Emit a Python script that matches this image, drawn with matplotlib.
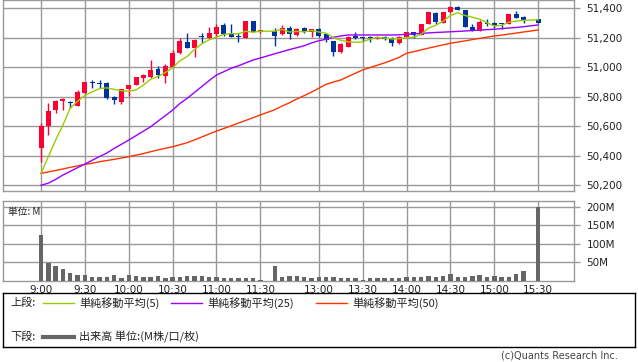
import numpy as np
import matplotlib.pyplot as plt

# 5-minute slots: 9:00-11:30, one empty break slot, 12:30-15:30
slots = [f"{(540 + 5 * k) // 60}:{(540 + 5 * k) % 60:02d}" for k in range(31)]
slots += [""]
slots += [f"{(750 + 5 * k) // 60}:{(750 + 5 * k) % 60:02d}" for k in range(37)]

tick_labels = ["9:00", "9:30", "10:00", "10:30", "11:00", "11:30",
               "13:00", "13:30", "14:00", "14:30", "15:00", "15:30"]

N = None
opens = [50451, 50604, 50709, 50770, 50765, 50740, 50824, 50902, 50895, 50894,
         50797, 50767, 50851, 50880, 50927, 50932, 50986, 50941, 51004, 51095,
         51170, 51133, 51212, 51201, 51226, 51287, 51230, 51207, 51201, 51314,
         51237, N, 51246, 51224, 51264, 51219, 51264, 51237, 51258, 51224,
         51178, 51102, 51140, 51212, 51199, 51203, 51192, 51207, 51192, 51163,
         51207, 51237, 51219, 51292, 51366, 51302, 51373, 51407, 51389, 51271,
         51248, 51302, 51298, 51296, 51292, 51361, 51343, N, 51327]
highs = [50620, 50755, 50775, 50790, 50772, 50846, 50900, 50914, 50912, 50900,
         50805, 50855, 50882, 50936, 50954, 51050, 51009, 51022, 51117, 51197,
         51232, 51190, 51230, 51275, 51294, 51302, 51294, 51230, 51316, 51316,
         51255, N, 51269, 51287, 51280, 51264, 51270, 51262, 51264, 51230,
         51180, 51163, 51214, 51237, 51207, 51212, 51212, 51210, 51207, 51209,
         51239, 51239, 51294, 51375, 51377, 51375, 51413, 51412, 51391, 51294,
         51321, 51327, 51309, 51302, 51363, 51384, 51345, N, 51329]
lows = [50360, 50541, 50688, 50710, 50725, 50738, 50822, 50858, 50862, 50788,
        50753, 50749, 50808, 50878, 50902, 50925, 50925, 50895, 51002, 51090,
        51133, 51072, 51167, 51199, 51207, 51212, 51207, 51174, 51199, 51241,
        51235, N, 51147, 51222, 51192, 51212, 51230, 51203, 51208, 51170,
        51079, 51095, 51138, 51195, 51180, 51174, 51190, 51185, 51147, 51161,
        51205, 51197, 51217, 51290, 51294, 51300, 51371, 51387, 51275, 51246,
        51246, 51282, 51264, 51258, 51290, 51334, 51298, N, 51300]
closes = [50604, 50704, 50771, 50783, 50760, 50832, 50898, 50896, 50889, 50790,
          50778, 50853, 50880, 50934, 50948, 50982, 50948, 51009, 51099, 51180,
          51133, 51185, 51204, 51230, 51271, 51226, 51207, 51203, 51314, 51241,
          51253, N, 51214, 51264, 51224, 51260, 51237, 51260, 51214, 51185,
          51102, 51156, 51207, 51197, 51196, 51200, 51207, 51192, 51163, 51207,
          51237, 51219, 51292, 51373, 51305, 51373, 51411, 51389, 51275, 51248,
          51305, 51294, 51280, 51292, 51361, 51336, 51321, N, 51302]

ma5 = [50281, 50394, 50507, 50609, 50724, 50770, 50809, 50834, 50855, 50861,
       50850, 50841, 50838, 50847, 50879, 50919, 50938, 50964, 50997, 51044,
       51074, 51121, 51160, 51186, 51205, 51223, 51228, 51227, 51244, 51238,
       51244, N, 51245, 51257, 51239, 51243, 51240, 51249, 51239, 51231,
       51200, 51183, 51173, 51169, 51172, 51191, 51201, 51198, 51192, 51194,
       51201, 51204, 51224, 51266, 51285, 51312, 51351, 51370, 51351, 51339,
       51326, 51302, 51280, 51284, 51306, 51313, 51318, N, 51322]
ma25 = [50200, 50215, 50240, 50270, 50295, 50320, 50344, 50370, 50395, 50419,
        50450, 50478, 50507, 50537, 50567, 50597, 50635, 50672, 50710, 50755,
        50790, 50830, 50870, 50910, 50948, 50970, 50993, 51010, 51030, 51049,
        51063, N, 51092, 51106, 51120, 51133, 51146, 51165, 51180, 51190,
        51203, 51212, 51219, 51219, 51219, 51219, 51219, 51219, 51219, 51220,
        51224, 51226, 51230, 51233, 51236, 51238, 51241, 51243, 51246, 51249,
        51252, 51255, 51258, 51262, 51266, 51270, 51275, N, 51287]
ma50 = [50281, 50291, 50301, 50311, 50322, 50332, 50342, 50350, 50360, 50368,
        50376, 50385, 50394, 50405, 50415, 50428, 50440, 50451, 50462, 50475,
        50489, 50508, 50528, 50548, 50568, 50585, 50603, 50622, 50640, 50658,
        50677, N, 50713, 50738, 50760, 50785, 50808, 50832, 50858, 50885,
        50900, 50914, 50937, 50960, 50982, 50998, 51014, 51030, 51048, 51068,
        51095, 51106, 51118, 51130, 51141, 51152, 51163, 51171, 51179, 51188,
        51196, 51204, 51212, 51218, 51225, 51232, 51239, N, 51253]

volume = [125, 48, 40, 32, 21, 17, 17, 12, 12, 12,
          15, 9, 15, 13, 10, 10, 13, 7, 10, 10,
          13, 13, 13, 10, 10, 7, 7, 7, 7, 7,
          3, 0, 40, 10, 13, 13, 10, 7, 10, 10,
          10, 7, 7, 7, 4, 7, 7, 7, 7, 7,
          10, 10, 12, 13, 12, 14, 20, 10, 10, 14,
          17, 10, 14, 12, 12, 20, 28, 1, 200]

UP = "#ff0033"
DOWN = "#003399"
GRID = "#999999"
TXT = "#222222"
JP = ["Noto Sans CJK JP", "DejaVu Sans"]

x = np.arange(len(slots))
o = np.array(opens, dtype=float)
h = np.array(highs, dtype=float)
l = np.array(lows, dtype=float)
c = np.array(closes, dtype=float)
has = ~np.isnan(c)

W, H = 638, 362
fig = plt.figure(figsize=(W / 100, H / 100), dpi=100)
ax = fig.add_axes([3 / W, 1 - 190.5 / H, 571 / W, 190.5 / H])
axv = fig.add_axes([3 / W, 1 - 281 / H, 571 / W, 80 / H])

tick_pos = [slots.index(t) for t in tick_labels]

for a in (ax, axv):
    a.set_xlim(-5.2, 72.9)
    for s in a.spines.values():
        s.set_color(GRID)
        s.set_linewidth(1)
    a.yaxis.tick_right()
    a.set_xticks(tick_pos)
    a.grid(True, color=GRID, linewidth=1)
    a.set_axisbelow(True)
    a.tick_params(axis="y", colors=GRID, length=4, width=1, pad=5,
                  labelcolor=TXT, labelsize=7.5)

# candles
colors = [UP if c[i] >= o[i] else DOWN for i in x[has]]
ax.vlines(x[has], l[has], h[has], colors=colors, linewidth=1)
body = np.maximum(np.abs(c - o), 6)
bottom = np.minimum(o, c)
ax.bar(x[has], body[has], bottom=bottom[has], width=0.68, color=colors,
       linewidth=0, zorder=3)

for ma, col in ((ma50, "#ff3300"), (ma25, "#9900ff"), (ma5, "#99cc00")):
    m = np.array(ma, dtype=float)
    ok = ~np.isnan(m)
    ax.plot(x[ok], m[ok], color=col, linewidth=1, zorder=4)

ax.set_ylim(50165, 51456)
ax.set_yticks(np.arange(50200, 51401, 200))
ax.set_yticklabels([f"{v:,}" for v in range(50200, 51401, 200)])
ax.tick_params(axis="x", length=0, labelbottom=False)

# volume
v = np.array(volume, dtype=float)
axv.bar(x, v, width=0.6, color="#666666", linewidth=0, zorder=3)
axv.set_ylim(0, 216)
axv.set_yticks([50, 100, 150, 200])
axv.set_yticklabels(["50M", "100M", "150M", "200M"])
axv.set_xticklabels(tick_labels)
axv.tick_params(axis="x", length=0, pad=3, labelsize=7.5, labelcolor=TXT)
axv.text(5 / 571, 0.93, "単位: M", transform=axv.transAxes, fontsize=7,
         family=JP, color=TXT, va="top", ha="left")

# legend box
lg = fig.add_axes([3 / W, 1 - 347 / H, 632 / W, 54 / H])
lg.set_xlim(0, 632)
lg.set_ylim(54, 0)
lg.set_xticks([])
lg.set_yticks([])
for s in lg.spines.values():
    s.set_color("black")
    s.set_linewidth(1)

row1, row2 = 10, 44
FS = 8
lg.text(7, row1, "上段:", family=JP, fontsize=FS, va="center", color=TXT)
items = [(40, "#99cc00", "単純移動平均(5)"),
         (168, "#9900ff", "単純移動平均(25)"),
         (313, "#ff3300", "単純移動平均(50)")]
for x0, col, lab in items:
    lg.plot([x0, x0 + 31], [row1, row1], color=col, linewidth=1)
    lg.text(x0 + 36, row1, lab, family=JP, fontsize=FS, va="center", color=TXT)
lg.text(7, row2, "下段:", family=JP, fontsize=FS, va="center", color=TXT)
lg.plot([40, 71], [row2, row2], color="#666666", linewidth=3)
lg.text(76, row2, "出来高 単位:(M株/口/枚)", family=JP, fontsize=FS,
        va="center", color=TXT)

fig.text(618 / W, 1 - 356 / H, "(c)Quants Research Inc.", fontsize=7,
         color="#444444", ha="right", va="center")

fig.savefig("out.png", dpi=100)
